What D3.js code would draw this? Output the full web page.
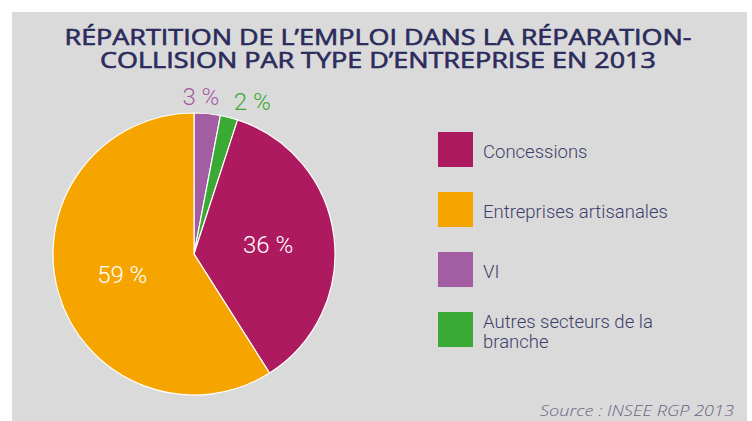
<!DOCTYPE html>
<html>
<head>
<meta charset="utf-8">
<script src="https://cdn.jsdelivr.net/npm/d3@7"></script>
<style>
  body { margin: 0; background: #fff; }
  svg { display: block; }
</style>
</head>
<body>
<div id="chart"></div>
<script>
// data, in drawing order clockwise from 12 o'clock
var categories = ["VI", "Autres secteurs de la branche", "Concessions", "Entreprises artisanales"];
var values = [3, 2, 36, 59];
var labels = ["3 %", "2 %", "36 %", "59 %"];
var colors = ["#a35da2", "#3aaa35", "#ae1a5f", "#f6a400"];

// legend order
var legendOrder = ["Concessions", "Entreprises artisanales", "VI", "Autres secteurs de la branche"];
var legendLines = [["Concessions"], ["Entreprises artisanales"], ["VI"], ["Autres secteurs de la", "branche"]];

var titleLines = ["RÉPARTITION DE L’EMPLOI DANS LA RÉPARATION-", "COLLISION PAR TYPE D’ENTREPRISE EN 2013"];
var source = "Source : INSEE RGP 2013";

var width = 752, height = 421;

var svg = d3.select("#chart").append("svg")
    .attr("width", width)
    .attr("height", height);

// grey panel
svg.append("rect")
    .attr("x", 12).attr("y", 12)
    .attr("width", 735).attr("height", height - 12)
    .attr("fill", "#dadada");

// title (the original face is a wide geometric sans, so stretch to its width)
var title = svg.append("g").selectAll("text")
    .data(titleLines)
    .enter().append("text")
    .attr("x", 378)
    .attr("y", function(d, i) { return 45 + i * 22.5; })
    .attr("text-anchor", "middle")
    .attr("font-family", "'Open Sans', sans-serif")
    .attr("font-size", 21)
    .attr("fill", "#2b2c5c")
    .attr("stroke", "#2b2c5c")
    .attr("stroke-width", 0.6)
    .text(function(d) { return d; });

var titleWidth = 627;
var k = titleWidth / title.nodes()[0].getComputedTextLength();
title.each(function() {
    var len = this.getComputedTextLength() * k;
    d3.select(this).attr("textLength", len).attr("lengthAdjust", "spacingAndGlyphs");
});

// pie
var cx = 194, cy = 254, radius = 141;

var color = d3.scaleOrdinal().domain(categories).range(colors);

var pie = d3.pie()
    .sort(null)
    .value(function(d) { return d.value; });

var data = categories.map(function(c, i) { return {name: c, value: values[i], label: labels[i]}; });
var arcs = pie(data);

var arc = d3.arc().innerRadius(0).outerRadius(radius);
var inner = d3.arc().innerRadius(radius * 0.53).outerRadius(radius * 0.53);
var outer = d3.arc().innerRadius(radius + 17).outerRadius(radius + 17);
// small horizontal nudges so the two outside labels do not collide
var outerNudge = {"VI": -8, "Autres secteurs de la branche": 19};

var g = svg.append("g")
    .attr("transform", "translate(" + cx + "," + cy + ")");

g.selectAll("path")
    .data(arcs)
    .enter().append("path")
    .attr("d", arc)
    .attr("fill", function(d) { return color(d.data.name); })
    .attr("stroke", "#ffffff")
    .attr("stroke-width", 1.2);

g.selectAll("text")
    .data(arcs)
    .enter().append("text")
    .attr("transform", function(d) {
        var big = d.data.value > 10;
        var p = big ? inner.centroid(d) : outer.centroid(d);
        var dx = big ? 0 : (outerNudge[d.data.name] || 0);
        return "translate(" + (p[0] + dx) + "," + p[1] + ")";
    })
    .attr("dy", "0.36em")
    .attr("text-anchor", "middle")
    .attr("font-family", "Roboto, sans-serif")
    .attr("font-weight", 300)
    .attr("font-size", 24)
    .attr("fill", function(d) { return d.data.value > 10 ? "#ffffff" : color(d.data.name); })
    .text(function(d) { return d.data.label; });

// legend
var legend = svg.append("g")
    .attr("transform", "translate(438,132)");

var item = legend.selectAll("g")
    .data(legendOrder)
    .enter().append("g")
    .attr("transform", function(d, i) { return "translate(0," + (i * 60) + ")"; });

item.append("rect")
    .attr("width", 35)
    .attr("height", 35)
    .attr("fill", function(d) { return color(d); });

item.append("text")
    .attr("font-family", "Roboto, sans-serif")
    .attr("font-weight", 300)
    .attr("font-size", 18.5)
    .attr("fill", "#3e3f6a")
    .selectAll("tspan")
    .data(function(d, i) { return legendLines[i]; })
    .enter().append("tspan")
    .attr("x", 45)
    .attr("y", function(d, j, nodes) {
        var n = nodes.length;
        return 26 + (j - (n - 1) / 2) * 20;
    })
    .text(function(d) { return d; });

// source
svg.append("text")
    .attr("x", 734)
    .attr("y", 416)
    .attr("text-anchor", "end")
    .attr("font-family", "'Open Sans', sans-serif")
    .attr("font-style", "italic")
    .attr("font-weight", 300)
    .attr("font-size", 14)
    .attr("fill", "#66677f")
    .attr("textLength", 194)
    .attr("lengthAdjust", "spacingAndGlyphs")
    .text(source);
</script>
</body>
</html>
